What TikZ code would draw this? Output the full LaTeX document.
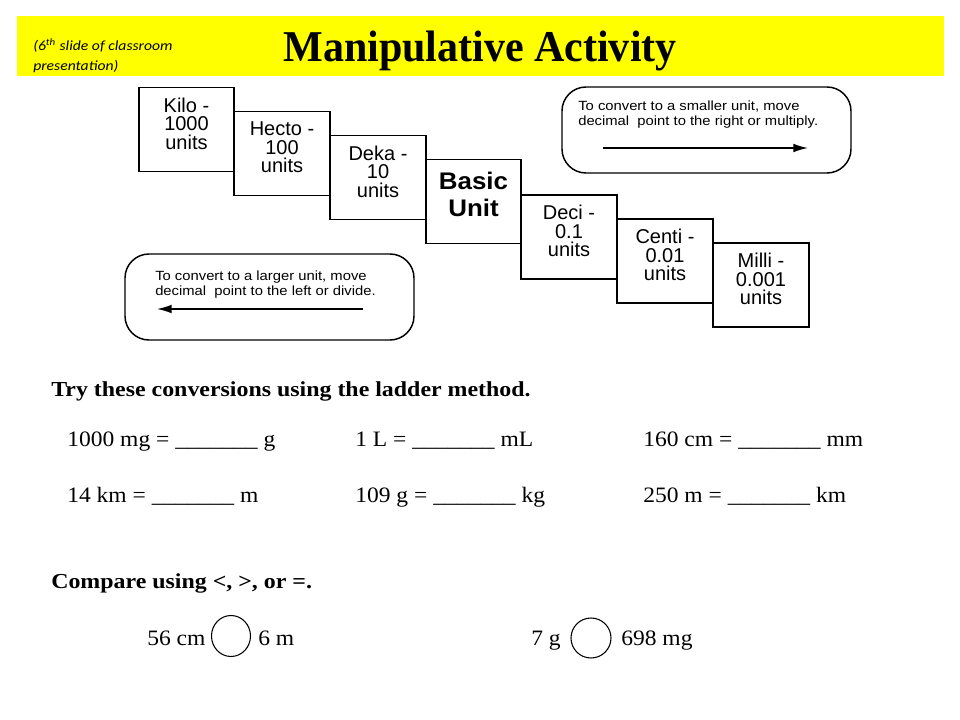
\documentclass[tikz,border=0pt]{standalone}
\usepackage{fontspec}
\usepackage{graphicx}
\setmainfont{Liberation Serif}
\newfontfamily\arialfont{Liberation Sans}
\newfontfamily\calibrifont{Carlito}
\usetikzlibrary{shapes.geometric,arrows.meta}
\definecolor{slideyellow}{RGB}{255,255,0}
\newcommand{\hstr}[2]{\scalebox{#1}[1]{#2}}
\tikzset{
  ladderbox/.style={draw, line width=1.2pt, minimum width=71.6pt, minimum height=63pt, inner sep=0pt},
  laddertext/.style={font=\arialfont\fontsize{15}{13.9}\selectfont, align=center, inner sep=0pt, yshift=4.5pt},
  basictext/.style={font=\arialfont\bfseries\fontsize{18}{22}\selectfont, anchor=base, inner sep=0pt},
  rbox/.style={draw, line width=1.1pt, rounded corners=18pt, minimum width=216.75pt, minimum height=64.5pt, inner sep=0pt},
  rtext/.style={anchor=west, inner sep=0pt, font=\arialfont\fontsize{10}{11.25}\selectfont},
  arr/.style={line width=1.1pt, -{Latex[length=11pt,width=6.5pt]}},
  heading/.style={anchor=base west, inner sep=0pt, font=\bfseries},
  item/.style={anchor=base west, inner sep=0pt, font=\fontsize{16.5}{19}\selectfont},
  cmpcircle/.style={draw, ellipse, line width=0.8pt, inner sep=0pt},
}
\begin{document}
\begin{tikzpicture}[x=0.75pt,y=-0.75pt]
\useasboundingbox (0,0) rectangle (960,720);
\fill[white] (0,0) rectangle (960,720);
% header bar
\node[fill=slideyellow, minimum width=695.25pt, minimum height=45pt, inner sep=0pt, anchor=north west] (bar) at (17,16) {};
\node[anchor=base, inner sep=0pt] (title) at (480,62) {\hstr{0.955}{\fontsize{33}{36}\selectfont\bfseries Manipulative Activity}};
\node[anchor=base west, inner sep=0pt] (sub1) at (33,50.7) {\hstr{1.12}{\calibrifont\itshape\fontsize{10.5}{12}\selectfont (6\textsuperscript{th} slide of classroom}};
\node[anchor=base west, inner sep=0pt] (sub2) at (33,70.7) {\hstr{1.12}{\calibrifont\itshape\fontsize{10.5}{12}\selectfont presentation)}};
% ladder
\node[ladderbox] (kilo) at (186.5,129.5) {};
\node[ladderbox] (hecto) at (282,153.5) {};
\node[ladderbox] (deka) at (378,177.5) {};
\node[ladderbox] (basic) at (473.5,201.5) {};
\node[ladderbox] (deci) at (569,237) {};
\node[ladderbox] (centi) at (665,261) {};
\node[ladderbox] (milli) at (761,285) {};
\node[laddertext] (kilot) at (kilo.center) {Kilo -\\1000\\units};
\node[laddertext] (hectot) at (hecto.center) {Hecto -\\100\\units};
\node[laddertext] (dekat) at (deka.center) {Deka -\\10\\units};
\node[basictext] (basict1) at (473.5,189.5) {\hstr{1.08}{Basic}};
\node[basictext] (basict2) at (473.5,216.5) {\hstr{1.08}{Unit}};
\node[laddertext] (decit) at (deci.center) {Deci -\\0.1\\units};
\node[laddertext] (centit) at (centi.center) {Centi -\\0.01\\units};
\node[laddertext] (millit) at (milli.center) {Milli -\\0.001\\units};
% rounded boxes
\node[rbox] (smaller) at (706.5,130) {};
\node[rtext] (smallert) at (578,115.5) {\hstr{1.11}{\begin{tabular}{@{}l@{}}To convert to a smaller unit, move\\decimal\ \ point to the right or multiply.\end{tabular}}};
\coordinate (s1) at (603,148);
\coordinate (s2) at (808,148);
\draw[arr] (s1) -- (s2);
\node[rbox] (larger) at (269.5,297) {};
\node[rtext] (largert) at (155,285.5) {\hstr{1.11}{\begin{tabular}{@{}l@{}}To convert to a larger unit, move\\decimal\ \ point to the left or divide.\end{tabular}}};
\coordinate (l1) at (363,309);
\coordinate (l2) at (157,309);
\draw[arr] (l1) -- (l2);
% conversions
\node[heading] (try) at (51,396) {\hstr{1.12}{\fontsize{16}{19}\selectfont\bfseries Try these conversions using the ladder method.}};
\node[item] (c1) at (67,446) {\hstr{1.07}{1000 mg = \_\_\_\_\_\_\_ g}};
\node[item] (c2) at (355,446) {\hstr{1.07}{1 L = \_\_\_\_\_\_\_ mL}};
\node[item] (c3) at (643,446) {\hstr{1.07}{160 cm = \_\_\_\_\_\_\_ mm}};
\node[item] (c4) at (67,502) {\hstr{1.07}{14 km = \_\_\_\_\_\_\_ m}};
\node[item] (c5) at (355,502) {\hstr{1.07}{109 g = \_\_\_\_\_\_\_ kg}};
\node[item] (c6) at (643,502) {\hstr{1.07}{250 m = \_\_\_\_\_\_\_ km}};
% compare
\node[heading] (cmp) at (51,588) {\hstr{1.12}{\fontsize{16}{19}\selectfont\bfseries Compare using <, >, or =.}};
\node[item] (a1) at (147,645) {\hstr{1.07}{56 cm}};
\node[cmpcircle, minimum width=29.25pt, minimum height=30.75pt] (o1) at (231,636) {};
\node[item] (a2) at (258,645) {\hstr{1.07}{6 m}};
\node[item] (b1) at (531,645.5) {\hstr{1.07}{7 g}};
\node[cmpcircle, minimum width=30pt, minimum height=30pt] (o2) at (591,638) {};
\node[item] (b2) at (621,645.5) {\hstr{1.07}{698 mg}};
\end{tikzpicture}
\end{document}
